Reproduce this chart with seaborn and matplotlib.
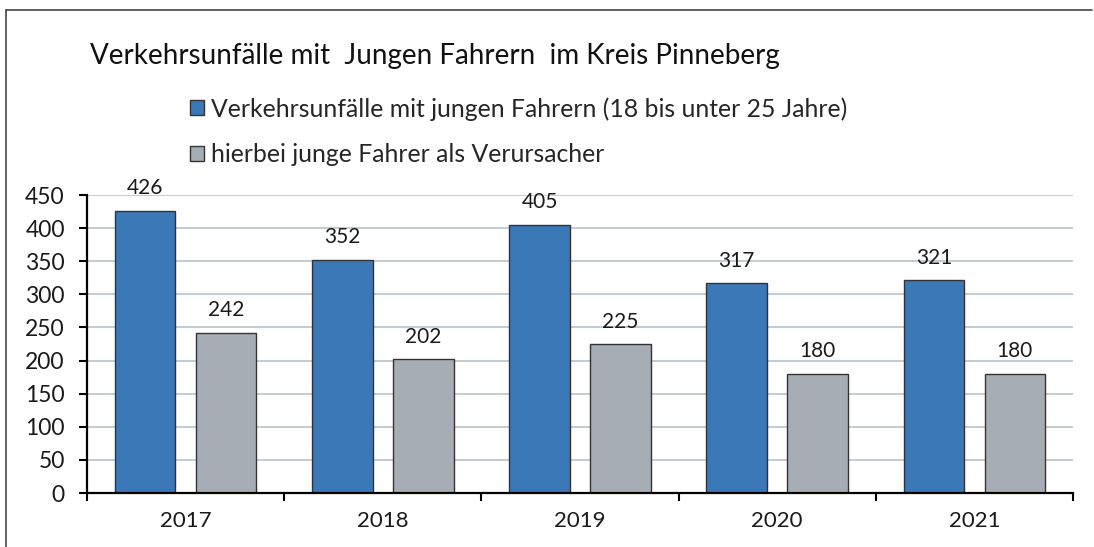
import pandas as pd
import matplotlib.pyplot as plt
import seaborn as sns
from matplotlib.lines import Line2D
from matplotlib.patches import Patch

# values
years = ["2017", "2018", "2019", "2020", "2021"]
unfaelle = [426, 352, 405, 317, 321]
verursacher = [242, 202, 225, 180, 180]
series_names = ["Verkehrsunfälle mit jungen Fahrern (18 bis unter 25 Jahre)",
                "hierbei junge Fahrer als Verursacher"]
title = "Verkehrsunfälle mit  Jungen Fahrern  im Kreis Pinneberg"
yticks = [0, 50, 100, 150, 200, 250, 300, 350, 400, 450]

colors = ["#3b78b8", "#a6adb5"]

df = pd.DataFrame({
    "Jahr": years * 2,
    "Wert": unfaelle + verursacher,
    "Reihe": [series_names[0]] * len(years) + [series_names[1]] * len(years),
})

sns.set_theme(style="white")
plt.rcParams["font.family"] = ["Lato", "DejaVu Sans"]

fig = plt.figure(figsize=(10.94, 5.47), dpi=100)
ax = fig.add_axes([87 / 1094, 1 - 493 / 547, (1073 - 87) / 1094, (493 - 195) / 547])

sns.barplot(data=df, x="Jahr", y="Wert", hue="Reihe", palette=colors,
            width=0.82, gap=0.25, edgecolor="#333333", linewidth=1.0,
            saturation=1, legend=False, ax=ax)

for cont in ax.containers:
    ax.bar_label(cont, padding=9, fontsize=15, color="#1a1a1a")

ax.set_ylim(0, 450)
ax.set_xlim(-0.5, len(years) - 0.5)
ax.set_yticks(yticks)
ax.set_xlabel("")
ax.set_ylabel("")
ax.yaxis.grid(True, color="#b9c3cb", linewidth=1.2)
ax.set_axisbelow(True)

# tick marks between the categories, labels in the middle
ax.set_xticks(range(len(years)))
ax.set_xticks([i + 0.5 for i in range(-1, len(years))], minor=True)
ax.tick_params(axis="x", which="major", length=0, pad=13, labelsize=16, colors="#1a1a1a")
ax.tick_params(axis="x", which="minor", length=6, width=1.5, direction="out", color="black", bottom=True)
ax.tick_params(axis="y", length=6, width=1.5, direction="out", pad=10, labelsize=16.5,
               colors="#1a1a1a", left=True)
ax.tick_params(axis="y", color="black")

for side in ["top", "right"]:
    ax.spines[side].set_visible(False)
for side in ["left", "bottom"]:
    ax.spines[side].set_color("black")
    ax.spines[side].set_linewidth(1.6)

fig.text(90 / 1094, 1 - 56 / 547, title, fontsize=20, va="center", ha="left", color="#111111")

handles = [Patch(facecolor=c, edgecolor="#333333", linewidth=1.0) for c in colors]
fig.legend(handles, series_names, loc="upper left", bbox_to_anchor=(190 / 1094, 1 - 97 / 547),
           frameon=False, fontsize=17.8, handlelength=0.55, handleheight=0.55,
           handletextpad=0.3, labelspacing=0.92, borderpad=0, borderaxespad=0)

# outer chart border
fig.add_artist(Line2D([6 / 1094, 6 / 1094], [0, 1 - 10 / 547], transform=fig.transFigure,
                      color="#444444", linewidth=1.2))
fig.add_artist(Line2D([6 / 1094, 1092 / 1094], [1 - 10 / 547, 1 - 10 / 547], transform=fig.transFigure,
                      color="#444444", linewidth=1.2))

fig.savefig("out.png", dpi=100)
